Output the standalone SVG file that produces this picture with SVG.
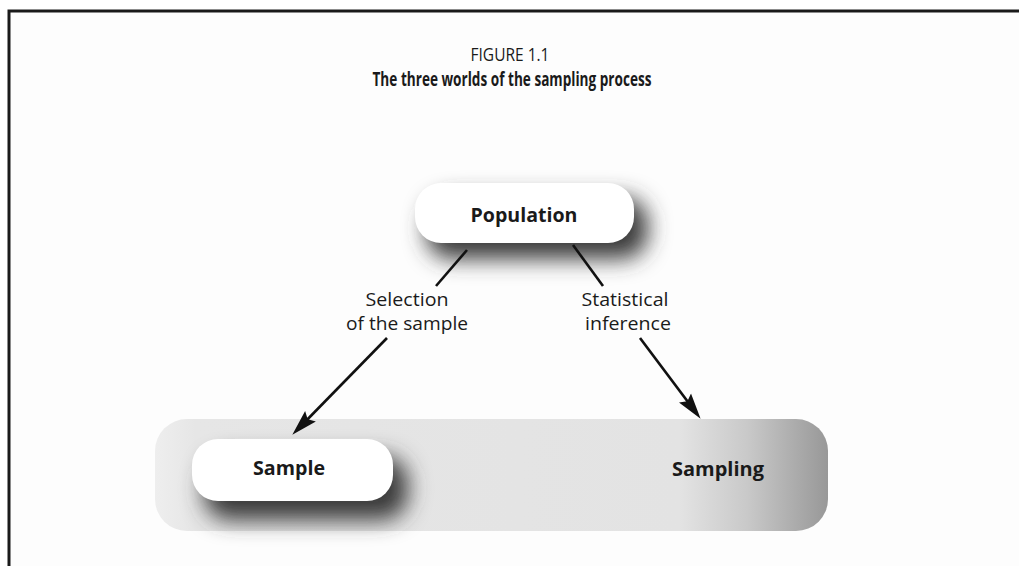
<svg xmlns="http://www.w3.org/2000/svg" width="1019" height="566" viewBox="0 0 1019 566">
  <defs>
    <style>
      .t { font-family: "Open Sans", "Noto Sans", "Liberation Sans", sans-serif; fill: #1a1a1a; text-anchor: middle; }
      .b { font-weight: bold; }
      .node { fill: #ffffff; }
      .shadow { fill: #3a3a3a; filter: url(#blur); }
      .conn { stroke: #111111; stroke-width: 2.6; fill: none; }
    </style>
    <filter id="blur" x="-40%" y="-80%" width="180%" height="260%">
      <feGaussianBlur stdDeviation="11"/>
    </filter>
    <linearGradient id="band" x1="0" y1="0" x2="1" y2="0">
      <stop offset="0" stop-color="#eeeeee"/>
      <stop offset="0.06" stop-color="#e6e6e6"/>
      <stop offset="0.78" stop-color="#e3e3e3"/>
      <stop offset="0.88" stop-color="#c9c9c9"/>
      <stop offset="1" stop-color="#989898"/>
    </linearGradient>
    <marker id="arr" markerUnits="userSpaceOnUse" markerWidth="28" markerHeight="18" viewBox="0 0 28 18" refX="15" refY="9" orient="auto">
      <path d="M0,1.5 L26,9 L0,16.5 L4,9 z" fill="#111111"/>
    </marker>
  </defs>

  <rect x="0" y="0" width="1019" height="566" fill="#ffffff"/>
  <rect x="10" y="12" width="1009" height="554" fill="#fdfdfd"/>
  <path d="M9,566 V11 H1019" fill="none" stroke="#1a1a1a" stroke-width="3"/>

  <g id="title">
    <text class="t" x="510" y="61" font-size="19" textLength="79" lengthAdjust="spacingAndGlyphs">FIGURE 1.1</text>
    <text class="t b" x="512" y="86" font-size="20" textLength="279" lengthAdjust="spacingAndGlyphs">The three worlds of the sampling process</text>
  </g>

  <g id="sampling">
    <rect x="155" y="419" width="673" height="112" rx="32" fill="url(#band)"/>
    <text class="t b" x="718" y="476" font-size="20" textLength="92" lengthAdjust="spacingAndGlyphs">Sampling</text>
  </g>

  <g id="population">
    <rect class="shadow" x="426" y="197" width="222" height="62" rx="26"/>
    <rect class="node" x="415" y="183" width="219" height="60" rx="26"/>
    <text class="t b" x="524" y="222" font-size="20" textLength="107" lengthAdjust="spacingAndGlyphs">Population</text>
  </g>

  <g id="sample">
    <rect class="shadow" x="204" y="456" width="204" height="64" rx="26"/>
    <rect class="node" x="192" y="439" width="201" height="62" rx="26"/>
    <text class="t b" x="289" y="475" font-size="20" textLength="72" lengthAdjust="spacingAndGlyphs">Sample</text>
  </g>

  <g id="connectors">
    <line class="conn" x1="467" y1="250" x2="436" y2="286"/>
    <line class="conn" x1="387" y1="338" x2="300" y2="427" marker-end="url(#arr)"/>
    <line class="conn" x1="573" y1="245" x2="603" y2="286"/>
    <line class="conn" x1="640" y1="338" x2="694" y2="410" marker-end="url(#arr)"/>
  </g>

  <g id="labels">
    <text class="t" x="407" y="306" font-size="19" textLength="83" lengthAdjust="spacingAndGlyphs">Selection</text>
    <text class="t" x="407" y="330" font-size="19" textLength="122" lengthAdjust="spacingAndGlyphs">of the sample</text>
    <text class="t" x="625" y="306" font-size="19" textLength="87" lengthAdjust="spacingAndGlyphs">Statistical</text>
    <text class="t" x="628" y="330" font-size="19" textLength="86" lengthAdjust="spacingAndGlyphs">inference</text>
  </g>
</svg>
